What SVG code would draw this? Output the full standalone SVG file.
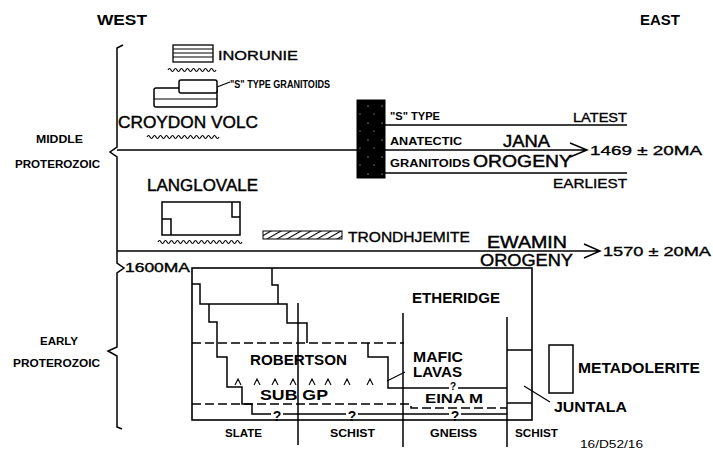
<svg xmlns="http://www.w3.org/2000/svg" width="713" height="451" viewBox="0 0 713 451">
<defs>
<style>
.ln{fill:none;stroke:#000;stroke-width:1.5}
.tn{fill:none;stroke:#000;stroke-width:1.1}
.dash{fill:none;stroke:#000;stroke-width:1.5;stroke-dasharray:9 4}
.wave{fill:none;stroke:#000;stroke-width:1.2}
text{font-family:"Liberation Sans",Arial,sans-serif;fill:#000}
.s{font-size:11px;font-weight:bold}
.m{font-size:13px;stroke:#000;stroke-width:0.35}
.mb{font-size:14px;font-weight:bold}
.l{font-size:17px;stroke:#000;stroke-width:0.45}
.q{font-size:14px;text-anchor:middle;font-weight:bold}
</style>
<pattern id="hatch" width="5" height="5" patternUnits="userSpaceOnUse" patternTransform="rotate(60)">
<rect width="5" height="5" fill="#fff"/>
<line x1="0" y1="0" x2="0" y2="5" stroke="#000" stroke-width="2.2"/>
</pattern>
<pattern id="speck" width="14" height="17" patternUnits="userSpaceOnUse">
<rect width="14" height="17" fill="#000"/>
<circle cx="4" cy="4" r="0.6" fill="#fff"/>
<circle cx="10" cy="12" r="0.5" fill="#fff"/>
</pattern>
</defs>
<rect width="713" height="451" fill="#fff"/>

<g id="headings">
<text class="mb" x="97" y="25" textLength="50" lengthAdjust="spacingAndGlyphs">WEST</text>
<text class="mb" x="640" y="25" textLength="40" lengthAdjust="spacingAndGlyphs">EAST</text>
<text class="s" x="36" y="143" textLength="47" lengthAdjust="spacingAndGlyphs">MIDDLE</text>
<text class="s" x="15" y="168" textLength="85" lengthAdjust="spacingAndGlyphs">PROTEROZOIC</text>
<text class="s" x="40" y="345" textLength="38" lengthAdjust="spacingAndGlyphs">EARLY</text>
<text class="s" x="13" y="367" textLength="87" lengthAdjust="spacingAndGlyphs">PROTEROZOIC</text>
</g>

<g id="connectors">
<path class="ln" d="M123,45 L117,48 L117,147 L110,152 L117,157 L117,263 L124,268 L117,273 L117,347 L108,351 L117,356 L117,427 L122,429"/>
<path class="ln" d="M117,150 L587,150 M570,143 L587,150 L570,157"/>
<path class="ln" d="M117,251 L600,251 M584,244 L600,251 L584,258"/>
<path class="ln" d="M385,125 L627,125 M385,173 L627,173"/>
<path class="tn" d="M217,87 L230,82"/>
<path class="tn" d="M387,381 L405,372"/>
<path class="tn" d="M524,386 L550,402"/>
</g>

<g id="inorunie">
<rect x="173" y="45" width="40" height="17" fill="#fff" stroke="#000" stroke-width="1.3"/>
<path class="tn" d="M173,49 H213 M173,53 H213 M173,57 H213"/>
<text class="m" x="218" y="60" textLength="80" lengthAdjust="spacingAndGlyphs">INORUNIE</text>
<path class="wave" d="M168,70 q1.5,-3 3,0 t3,0 t3,0 t3,0 t3,0 t3,0 t3,0 t3,0 t3,0 t3,0 t3,0 t3,0 t3,0 t3,0 t3,0 t3,0"/>
</g>

<g id="s-type-granitoids">
<rect x="154" y="88" width="63" height="19" rx="2" fill="#fff" stroke="#000" stroke-width="1.5"/>
<path class="tn" d="M154,99 H217"/>
<rect x="179" y="80" width="38" height="13" rx="2" fill="#fff" stroke="#000" stroke-width="1.5"/>
<text class="s" x="230" y="88" textLength="100" lengthAdjust="spacingAndGlyphs">"S" TYPE GRANITOIDS</text>
</g>

<g id="croydon-volc">
<text class="l" x="118" y="128" textLength="140" lengthAdjust="spacingAndGlyphs">CROYDON VOLC</text>
<path class="wave" d="M147,137 q1.5,-3 3,0 t3,0 t3,0 t3,0 t3,0 t3,0 t3,0 t3,0 t3,0 t3,0 t3,0 t3,0 t3,0 t3,0 t3,0 t3,0 t3,0 t3,0 t3,0 t3,0 t3,0 t3,0 t3,0 t3,0"/>
</g>

<g id="jana">
<rect x="357" y="100" width="28" height="78" fill="url(#speck)" stroke="#000" stroke-width="1"/>
<text class="s" x="390" y="120" textLength="50" lengthAdjust="spacingAndGlyphs">"S" TYPE</text>
<text class="s" x="390" y="145" textLength="72" lengthAdjust="spacingAndGlyphs">ANATECTIC</text>
<text class="s" x="390" y="167" textLength="80" lengthAdjust="spacingAndGlyphs">GRANITOIDS</text>
<text class="m" x="573" y="122" textLength="54" lengthAdjust="spacingAndGlyphs">LATEST</text>
<text class="m" x="553" y="188" textLength="74" lengthAdjust="spacingAndGlyphs">EARLIEST</text>
<text class="l" x="503" y="147" textLength="47" lengthAdjust="spacingAndGlyphs">JANA</text>
<text class="l" x="473" y="167" textLength="99" lengthAdjust="spacingAndGlyphs">OROGENY</text>
<text class="m" x="590" y="155" textLength="112" lengthAdjust="spacingAndGlyphs" style="font-size:13.5px">1469 ± 20MA</text>
</g>

<g id="langlovale">
<text class="l" x="147" y="191" textLength="111" lengthAdjust="spacingAndGlyphs">LANGLOVALE</text>
<rect x="162" y="202" width="78" height="33" fill="#fff" stroke="#000" stroke-width="1.5"/>
<path class="ln" d="M232,202 V217 H240 M162,219 H171 V235"/>
<path class="wave" d="M158,242 q1.5,-3 3,0 t3,0 t3,0 t3,0 t3,0 t3,0 t3,0 t3,0 t3,0 t3,0 t3,0 t3,0 t3,0 t3,0 t3,0 t3,0 t3,0 t3,0 t3,0 t3,0 t3,0 t3,0 t3,0 t3,0 t3,0 t3,0 t3,0 t3,0"/>
</g>

<g id="trondhjemite">
<rect x="263" y="231" width="79" height="8" fill="url(#hatch)" stroke="#000" stroke-width="1"/>
<text class="m" x="348" y="242" textLength="122" lengthAdjust="spacingAndGlyphs" style="font-size:15px">TRONDHJEMITE</text>
</g>

<g id="ewamin">
<text class="l" x="487" y="248" textLength="80" lengthAdjust="spacingAndGlyphs">EWAMIN</text>
<text class="l" x="480" y="266" textLength="93" lengthAdjust="spacingAndGlyphs">OROGENY</text>
<text class="m" x="603" y="256" textLength="108" lengthAdjust="spacingAndGlyphs" style="font-size:13.5px">1570 ± 20MA</text>
<text class="m" x="125" y="272" textLength="65" lengthAdjust="spacingAndGlyphs">1600MA</text>
</g>

<g id="early-proterozoic-section">
<rect x="192" y="268" width="340" height="152" fill="none" stroke="#000" stroke-width="1.6"/>
<path class="ln" d="M272,268 V285 H278 V304 M192,284 H200 V304 H287 V323 H307 V343"/>
<path class="ln" d="M209,304 V322 H217 V357 H227 V387 H242 V404 H252 V414 H271 M283,414 H346 M358,414 H449 M461,414 H507"/>
<path class="dash" d="M192,343 H404"/>
<path class="ln" d="M368,343 V357 H388 V388 H449 M458,388 H507"/>
<path class="dash" d="M192,404 H411 V408 H507"/>
<path class="ln" d="M298,303 V445 M403,313 V447 M507,317 V447 M507,350 H532 M507,403 H532"/>
<path class="tn" d="M235,385 l3,-6 l3,6 M254,385 l3,-6 l3,6 M272,385 l3,-6 l3,6 M290,385 l3,-6 l3,6 M309,385 l3,-6 l3,6 M325,385 l3,-6 l3,6 M344,385 l3,-6 l3,6 M367,385 l3,-6 l3,6"/>
<text class="q" x="277" y="421">?</text>
<text class="q" x="352" y="421">?</text>
<text class="q" x="455" y="421">?</text>
<text class="q" x="453" y="390" style="font-size:10px">?</text>
<text class="mb" x="412" y="303" textLength="88" lengthAdjust="spacingAndGlyphs">ETHERIDGE</text>
<text class="mb" x="250" y="365" textLength="97" lengthAdjust="spacingAndGlyphs">ROBERTSON</text>
<text class="mb" x="413" y="362" textLength="50" lengthAdjust="spacingAndGlyphs">MAFIC</text>
<text class="mb" x="413" y="377" textLength="49" lengthAdjust="spacingAndGlyphs">LAVAS</text>
<text class="mb" x="260" y="400" textLength="68" lengthAdjust="spacingAndGlyphs">SUB  GP</text>
<text class="mb" x="425" y="403" textLength="58" lengthAdjust="spacingAndGlyphs" style="font-size:13px">EINA M</text>
<text class="s" x="225" y="437" textLength="37" lengthAdjust="spacingAndGlyphs">SLATE</text>
<text class="s" x="330" y="437" textLength="45" lengthAdjust="spacingAndGlyphs">SCHIST</text>
<text class="s" x="430" y="437" textLength="47" lengthAdjust="spacingAndGlyphs">GNEISS</text>
<text class="s" x="515" y="437" textLength="43" lengthAdjust="spacingAndGlyphs">SCHIST</text>
</g>

<g id="metadolerite">
<rect x="549" y="345" width="24" height="48" fill="#fff" stroke="#000" stroke-width="1.5"/>
<text class="mb" x="578" y="373" textLength="122" lengthAdjust="spacingAndGlyphs">METADOLERITE</text>
</g>

<g id="juntala">
<text class="mb" x="554" y="412" textLength="73" lengthAdjust="spacingAndGlyphs">JUNTALA</text>
</g>

<text x="580" y="448" style="font-size:10px" textLength="63" lengthAdjust="spacingAndGlyphs">16/D52/16</text>
</svg>
